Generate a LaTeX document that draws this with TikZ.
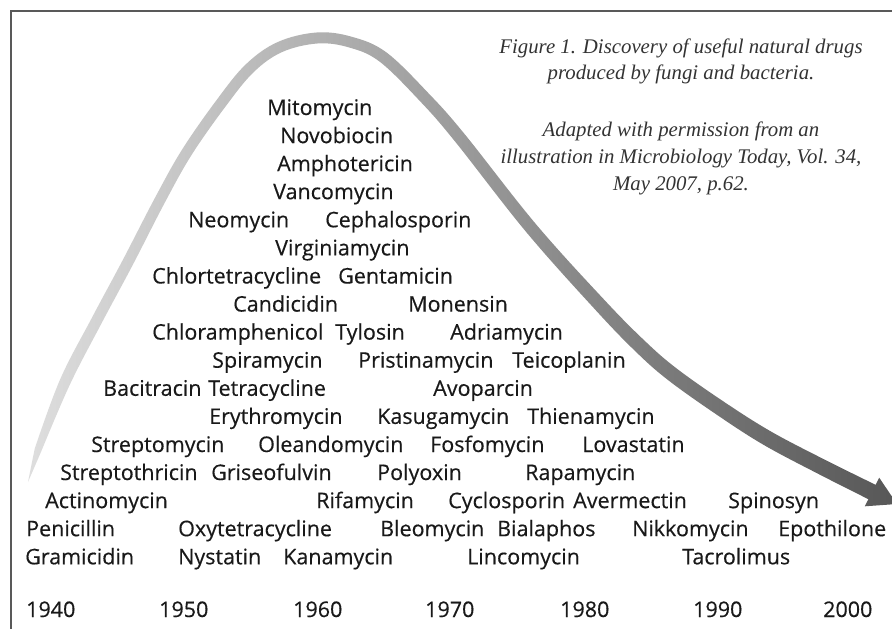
\documentclass[tikz,border=0pt]{standalone}
\usepackage{fontspec}
\newfontfamily\drugfamily[FakeBold=0.35]{Open Sans}
\newfontfamily\captfamily{Liberation Serif}
\definecolor{bandL}{gray}{0.87}
\definecolor{bandR}{gray}{0.34}
\definecolor{framec}{gray}{0.35}
\definecolor{inkc}{gray}{0.1}
\definecolor{captc}{gray}{0.2}
\begin{document}
\begin{tikzpicture}[x=1pt,y=-1pt,
  drug/.style={font=\drugfamily\fontsize{21.5}{25}\selectfont, anchor=base west, inner sep=0pt, text=inkc},
  capt/.style={font=\captfamily\itshape\fontsize{20.8}{24}\selectfont, anchor=base, inner sep=0pt, text=captc},
  framel/.style={draw=framec, line width=1.6pt}]
\useasboundingbox (0,0) rectangle (892,629);
\fill[white] (0,0) rectangle (892,629);
\draw[framel] (11,629) -- (11,11) -- (892,11);

% discovery curve (tapered band with gradient)
\shade[left color=bandL, right color=bandR]
  (28,482)
  -- plot[smooth, tension=0.6] coordinates {(34.7,448.8) (60.0,379.7) (92.1,317.4) (123.1,259.4) (155.2,197.4) (182.4,149.1) (217.6,98.7) (246.2,64.0) (277.8,42.0) (316.6,32.5) (351.5,36.7) (386.4,52.4) (429.2,94.0) (464.7,134.2) (535.8,224.0) (604.9,300.5) (644.8,340.9) (676.4,368.3) (724.1,401.9) (770.8,431.4) (823.6,459.1) (875.6,484.8)}
  -- (879.2,477.7) -- (897,504) -- (864.8,506.3)
  -- plot[smooth, tension=0.6] coordinates {(868.4,499.2) (816.4,472.9) (763.2,444.6) (715.9,414.1) (667.6,379.7) (635.2,351.1) (595.1,309.5) (526.2,232.0) (455.3,141.8) (420.8,102.0) (379.6,61.6) (348.5,47.3) (317.4,43.5) (282.2,52.0) (253.8,72.0) (226.4,105.3) (191.6,154.9) (164.8,202.6) (132.9,264.6) (101.9,322.6) (70.0,384.3) (41.3,451.2)}
  -- cycle;

% caption
\node[capt] (cap1) at (681,53) {Figure 1. Discovery of useful natural drugs};
\node[capt] (cap2) at (681,79) {produced by fungi and bacteria.};
\node[capt] (cap3) at (681,136) {Adapted with permission from an};
\node[capt] (cap4) at (681,163) {illustration in Microbiology Today, Vol. 34,};
\node[capt] (cap5) at (681,190) {May 2007, p.62.};

% row 0-5
\node[drug] (mitomycin) at (267,115) {Mitomycin};
\node[drug] (novobiocin) at (280,143.1) {Novobiocin};
\node[drug] (amphotericin) at (277,171.2) {Amphotericin};
\node[drug] (vancomycin) at (273,199.2) {Vancomycin};
\node[drug] (neomycin) at (188,227.3) {Neomycin};
\node[drug] (cephalosporin) at (325,227.3) {Cephalosporin};
\node[drug] (virginiamycin) at (275,255.4) {Virginiamycin};
% row 6-9
\node[drug] (chlortetracycline) at (152,283.5) {Chlortetracycline};
\node[drug] (gentamicin) at (338,283.5) {Gentamicin};
\node[drug] (candicidin) at (233,311.6) {Candicidin};
\node[drug] (monensin) at (408,311.6) {Monensin};
\node[drug] (chloramphenicol) at (152,339.6) {Chloramphenicol};
\node[drug] (tylosin) at (335,339.6) {Tylosin};
\node[drug] (adriamycin) at (450,339.6) {Adriamycin};
\node[drug] (spiramycin) at (212,367.7) {Spiramycin};
\node[drug] (pristinamycin) at (358,367.7) {Pristinamycin};
\node[drug] (teicoplanin) at (512,367.7) {Teicoplanin};
% row 10-13
\node[drug] (bacitracin) at (103,395.8) {Bacitracin};
\node[drug] (tetracycline) at (208,395.8) {Tetracycline};
\node[drug] (avoparcin) at (433,395.8) {Avoparcin};
\node[drug] (erythromycin) at (209,423.9) {Erythromycin};
\node[drug] (kasugamycin) at (377,423.9) {Kasugamycin};
\node[drug] (thienamycin) at (527,423.9) {Thienamycin};
\node[drug] (streptomycin) at (91,452) {Streptomycin};
\node[drug] (oleandomycin) at (258,452) {Oleandomycin};
\node[drug] (fosfomycin) at (430,452) {Fosfomycin};
\node[drug] (lovastatin) at (582,452) {Lovastatin};
\node[drug] (streptothricin) at (60,480) {Streptothricin};
\node[drug] (griseofulvin) at (211,480) {Griseofulvin};
\node[drug] (polyoxin) at (377,480) {Polyoxin};
\node[drug] (rapamycin) at (525,480) {Rapamycin};
% row 14-16
\node[drug] (actinomycin) at (45,508.1) {Actinomycin};
\node[drug] (rifamycin) at (316,508.1) {Rifamycin};
\node[drug] (cyclosporin) at (448,508.1) {Cyclosporin};
\node[drug] (avermectin) at (573,508.1) {Avermectin};
\node[drug] (spinosyn) at (728,508.1) {Spinosyn};
\node[drug] (penicillin) at (26,536.2) {Penicillin};
\node[drug] (oxytetracycline) at (178,536.2) {Oxytetracycline};
\node[drug] (bleomycin) at (380,536.2) {Bleomycin};
\node[drug] (bialaphos) at (497,536.2) {Bialaphos};
\node[drug] (nikkomycin) at (632,536.2) {Nikkomycin};
\node[drug] (epothilone) at (778,536.2) {Epothilone};
\node[drug] (gramicidin) at (25,564.3) {Gramicidin};
\node[drug] (nystatin) at (178,564.3) {Nystatin};
\node[drug] (kanamycin) at (283,564.3) {Kanamycin};
\node[drug] (lincomycin) at (467,564.3) {Lincomycin};
\node[drug] (tacrolimus) at (682,564.3) {Tacrolimus};
% years
\node[drug] (y1940) at (26,617) {1940};
\node[drug] (y1950) at (159,617) {1950};
\node[drug] (y1960) at (293,617) {1960};
\node[drug] (y1970) at (425,617) {1970};
\node[drug] (y1980) at (560,617) {1980};
\node[drug] (y1990) at (693,617) {1990};
\node[drug] (y2000) at (823,617) {2000};
\end{tikzpicture}
\end{document}
